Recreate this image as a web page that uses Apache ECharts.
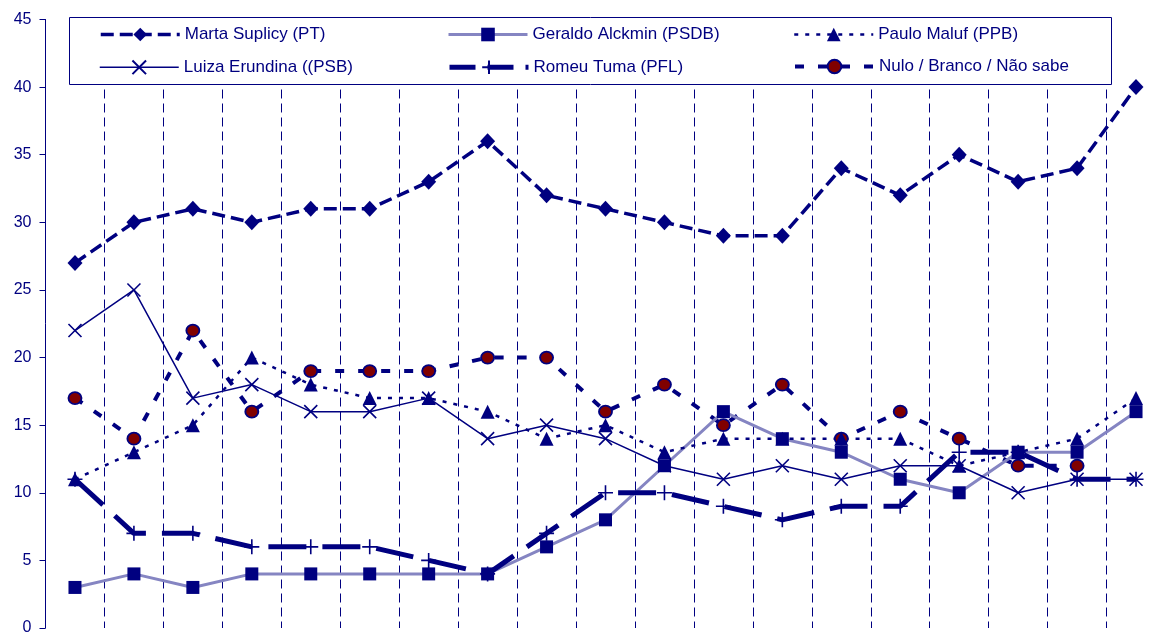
<!DOCTYPE html>
<html>
<head>
<meta charset="utf-8">
<script src="https://cdn.jsdelivr.net/npm/echarts@6/dist/echarts.min.js"></script>
<style>html,body{margin:0;padding:0;background:#fff;}#c{width:1156px;height:632px;}</style>
</head>
<body>
<div id="c"></div>
<script>
const categories = ['1','2','3','4','5','6','7','8','9','10','11','12','13','14','15','16','17','18','19'];
const marta    = [27, 30, 31, 30, 31, 31, 33, 36, 32, 31, 30, 29, 29, 34, 32, 35, 33, 34, 40];
const alckmin  = [3, 4, 3, 4, 4, 4, 4, 4, 6, 8, 12, 16, 14, 13, 11, 10, 13, 13, 16];
const maluf    = [11, 13, 15, 20, 18, 17, 17, 16, 14, 15, 13, 14, 14, 14, 14, 12, 13, 14, 17];
const erundina = [22, 25, 17, 18, 16, 16, 17, 14, 15, 14, 12, 11, 12, 11, 12, 12, 10, 11, 11];
const tuma     = [11, 7, 7, 6, 6, 6, 5, 4, 7, 10, 10, 9, 8, 9, 9, 13, 13, 11, 11];
const nulo     = [17, 14, 22, 16, 19, 19, 19, 20, 20, 16, 18, 15, 18, 14, 16, 14, 12, 12, null];
const yTicks = [0, 5, 10, 15, 20, 25, 30, 35, 40, 45];

const NAVY = '#000080';
const X_PATH = 'path://M0,0L10,10M10,0L0,10';
const PLUS_PATH = 'path://M5,0L5,10M0,5L10,5';

const chart = echarts.init(document.getElementById('c'), null, {renderer: 'canvas'});

const legendText = {color: NAVY, fontSize: 17, fontFamily: 'Liberation Sans, Arial, sans-serif'};
function lg(name, left, top, lw, dash) {
  return {
    data: [name], left: left, top: top, padding: 0, itemWidth: 79, itemHeight: 17,
    textStyle: legendText, z: 10, selectedMode: false,
    lineStyle: {width: lw, type: dash}
  };
}

chart.setOption({
  animation: false,
  backgroundColor: '#fff',
  grid: {left: 45.5, top: 19.5, width: 1120, height: 608.5, containLabel: false, outerBoundsMode: 'none'},
  xAxis: {
    type: 'category', data: categories, boundaryGap: true,
    axisLine: {show: false}, axisTick: {show: false}, axisLabel: {show: false},
    splitLine: {show: true, interval: 0, lineStyle: {color: NAVY, width: 1, type: [9, 5]}}
  },
  yAxis: {
    type: 'value', min: yTicks[0], max: yTicks[yTicks.length - 1], interval: 5,
    axisLine: {show: true, lineStyle: {color: NAVY, width: 1}},
    axisTick: {show: true, inside: false, length: 6, lineStyle: {color: NAVY}},
    axisLabel: {color: NAVY, fontSize: 16, margin: 14, fontFamily: 'Liberation Sans, Arial, sans-serif'},
    splitLine: {show: false}
  },
  graphic: [{
    type: 'rect', z: 5, shape: {x: 69.5, y: 17.5, width: 1042, height: 67},
    style: {fill: '#fff', stroke: NAVY, lineWidth: 1}
  }],
  legend: [
    lg('Marta Suplicy (PT)', 99, 26, 3.5, [13, 6]),
    lg('Geraldo Alckmin (PSDB)', 447, 26, 3, 'solid'),
    lg('Paulo Maluf (PPB)', 793, 26, 2.5, [4, 7]),
    lg('Luiza Erundina ((PSB)', 99, 58, 1.5, 'solid'),
    lg('Romeu Tuma (PFL)', 447, 58, 5, [26, 12]),
    lg('Nulo / Branco / Não sabe', 793, 58, 4, [9, 14])
  ],
  series: [
    {
      name: 'Nulo / Branco / Não sabe', type: 'line', data: nulo, connectNulls: false,
      symbol: 'circle', symbolSize: [13, 12],
      lineStyle: {color: NAVY, width: 4, type: [9, 14]},
      itemStyle: {color: '#800000', borderColor: NAVY, borderWidth: 1.8}
    },
    {
      name: 'Marta Suplicy (PT)', type: 'line', data: marta,
      symbol: 'diamond', symbolSize: [15, 16],
      lineStyle: {color: NAVY, width: 3.5, type: [13, 6]},
      itemStyle: {color: NAVY}
    },
    {
      name: 'Geraldo Alckmin (PSDB)', type: 'line', data: alckmin,
      symbol: 'rect', symbolSize: 13,
      lineStyle: {color: '#8585C2', width: 3, type: 'solid'},
      itemStyle: {color: NAVY}
    },
    {
      name: 'Paulo Maluf (PPB)', type: 'line', data: maluf,
      symbol: 'triangle', symbolSize: [14, 14],
      lineStyle: {color: NAVY, width: 2.5, type: [4, 7]},
      itemStyle: {color: NAVY}
    },
    {
      name: 'Luiza Erundina ((PSB)', type: 'line', data: erundina,
      symbol: X_PATH, symbolSize: 13,
      lineStyle: {color: NAVY, width: 1.5, type: 'solid'},
      itemStyle: {color: 'none', borderColor: NAVY, borderWidth: 1.6}
    },
    {
      name: 'Romeu Tuma (PFL)', type: 'line', data: tuma,
      symbol: PLUS_PATH, symbolSize: 15,
      lineStyle: {color: NAVY, width: 5, type: [38, 16]},
      itemStyle: {color: 'none', borderColor: NAVY, borderWidth: 1.6}
    }
  ]
});
</script>
</body>
</html>
